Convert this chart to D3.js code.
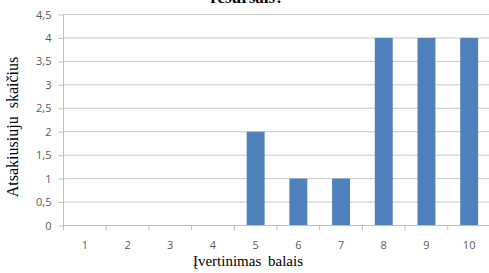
<!DOCTYPE html>
<html>
<head>
<meta charset="utf-8">
<script src="https://cdn.jsdelivr.net/npm/d3@7.9.0/dist/d3.min.js"></script>
<style>
  body { margin: 0; background: #fff; }
  svg { display: block; }
</style>
</head>
<body>
<svg id="chart" width="489" height="273"></svg>
<script>
const categories = ['1', '2', '3', '4', '5', '6', '7', '8', '9', '10'];
const values = [0, 0, 0, 0, 2, 1, 1, 4, 4, 4];
const yTicks = [0, 0.5, 1, 1.5, 2, 2.5, 3, 3.5, 4, 4.5];

const svg = d3.select('#chart');
const plotLeft = 63.5, plotRight = 490.5, plotTop = 14.5, plotBottom = 225.5;

const x = d3.scaleBand().domain(categories).range([plotLeft, plotRight]).paddingInner(0.58).paddingOuter(0.29);
const xOuter = d3.scaleBand().domain(categories).range([plotLeft, plotRight]);
const y = d3.scaleLinear().domain([0, 4.5]).range([plotBottom, plotTop]);

const fmt = (d) => String(d).replace('.', ',');

// gridlines
svg.append('g')
  .selectAll('line')
  .data(yTicks.filter((d) => d > 0))
  .join('line')
  .attr('x1', plotLeft).attr('x2', plotRight)
  .attr('y1', (d) => y(d)).attr('y2', (d) => y(d))
  .attr('stroke', '#c8c8c8').attr('stroke-width', 1);

// bars
svg.append('g')
  .selectAll('rect')
  .data(values)
  .join('rect')
  .attr('x', (d, i) => x(categories[i]))
  .attr('width', x.bandwidth())
  .attr('y', (d) => y(d))
  .attr('height', (d) => y(0) - y(d))
  .attr('fill', '#4f81bd');

// y axis
const yAxis = svg.append('g')
  .attr('transform', `translate(${plotLeft},0)`)
  .call(d3.axisLeft(y).tickValues(yTicks).tickFormat(fmt).tickSize(5).tickPadding(7));
yAxis.select('.domain').attr('stroke', '#bfbfbf').attr('d', `M0,${plotTop}V${plotBottom}`);
yAxis.selectAll('.tick line').attr('stroke', '#bfbfbf');
yAxis.selectAll('text')
  .attr('fill', '#595959')
  .style('font-family', '"Open Sans", sans-serif')
  .style('font-size', '11px');

// x axis with ticks at category boundaries
const xAxis = svg.append('g').attr('transform', `translate(0,${plotBottom})`);
xAxis.append('line')
  .attr('x1', plotLeft).attr('x2', plotRight)
  .attr('stroke', '#bfbfbf');
xAxis.selectAll('.xt')
  .data(categories)
  .join('line')
  .attr('class', 'xt')
  .attr('x1', (d) => xOuter(d)).attr('x2', (d) => xOuter(d))
  .attr('y1', 0).attr('y2', 5)
  .attr('stroke', '#bfbfbf');
xAxis.selectAll('text')
  .data(categories)
  .join('text')
  .attr('x', (d) => xOuter(d) + xOuter.bandwidth() / 2)
  .attr('y', 23.5)
  .attr('text-anchor', 'middle')
  .attr('fill', '#595959')
  .style('font-family', '"Open Sans", sans-serif')
  .style('font-size', '11px')
  .text((d) => d);

// titles
svg.append('text')
  .attr('x', 247).attr('y', 3)
  .attr('text-anchor', 'middle')
  .style('font-family', '"Liberation Serif", serif')
  .style('font-weight', 'bold')
  .style('font-size', '17px')
  .text('resursais?');

svg.append('text')
  .attr('x', 248).attr('y', 266)
  .attr('text-anchor', 'middle')
  .style('font-family', '"Liberation Serif", serif')
  .style('font-size', '15px')
  .style('word-spacing', '3px')
  .text('Įvertinimas balais');

svg.append('text')
  .attr('transform', 'translate(18,127) rotate(-90)')
  .attr('text-anchor', 'middle')
  .style('font-family', '"Liberation Serif", serif')
  .style('font-size', '16px')
  .style('word-spacing', '4px')
  .text('Atsakiusiuju skaičius');
</script>
</body>
</html>
